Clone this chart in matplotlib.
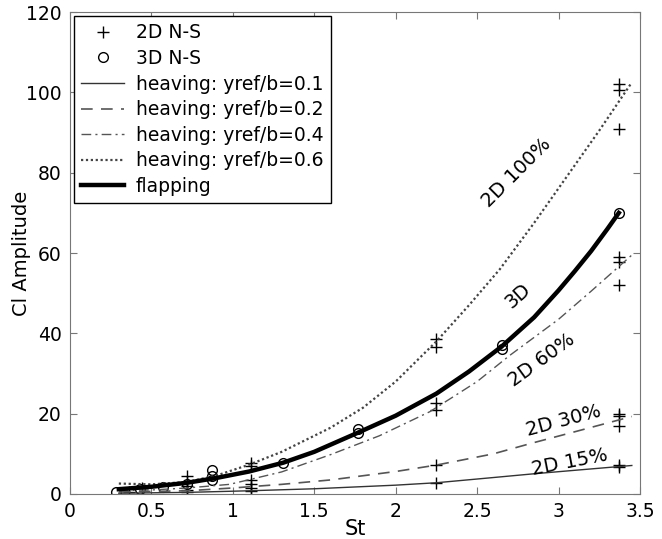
import matplotlib.pyplot as plt

# 2D / 3D Navier-Stokes samples
st_2d = [0.36, 0.44, 0.72, 0.72, 0.72, 0.72, 0.72, 1.11, 1.11, 1.11, 1.11, 1.11, 1.11,
         2.25, 2.25, 2.25, 2.25, 2.25, 2.25,
         3.37, 3.37, 3.37, 3.37, 3.37, 3.37, 3.37, 3.37, 3.37, 3.37, 3.37]
cl_2d = [0.6, 1.4, 4.5, 3.0, 2.0, 1.0, 0.5, 7.6, 7.0, 3.5, 2.4, 1.5, 0.7,
         38.5, 36.5, 22.6, 20.9, 7.2, 2.7,
         102.0, 100.6, 91.0, 59.0, 57.8, 52.0, 19.8, 19.3, 17.0, 7.2, 6.7]

st_3d = [0.28, 0.43, 0.57, 0.72, 0.87, 0.87, 0.87, 1.31, 1.77, 1.77, 2.65, 2.65, 3.37]
cl_3d = [0.6, 1.2, 1.7, 2.6, 5.9, 4.4, 3.4, 7.7, 16.2, 15.2, 37.0, 36.1, 70.0]

# heaving curves
st_h01 = [0.3, 0.72, 1.1, 1.5, 2.0, 2.25, 2.6, 2.84, 3.1, 3.45]
cl_h01 = [0.2, 0.4, 0.8, 1.3, 2.2, 2.8, 4.1, 5.0, 5.9, 7.1]

st_h02 = [0.3, 0.72, 1.0, 1.3, 1.6, 2.0, 2.25, 2.6, 2.84, 3.1, 3.45]
cl_h02 = [0.5, 0.8, 1.5, 2.4, 3.5, 5.6, 7.2, 10.0, 12.7, 15.5, 19.3]

st_h04 = [0.3, 0.5, 0.72, 0.98, 1.3, 1.6, 1.9, 2.21, 2.5, 2.7, 3.0, 3.2, 3.45]
cl_h04 = [0.9, 1.0, 1.5, 2.4, 5.5, 9.8, 14.5, 20.5, 28.0, 34.5, 43.5, 50.5, 59.5]

st_h06 = [0.3, 0.5, 0.72, 0.9, 1.1, 1.3, 1.6, 1.8, 2.0, 2.25, 2.45, 2.64, 2.85, 3.05, 3.25, 3.45]
cl_h06 = [2.6, 2.4, 3.0, 4.6, 7.3, 10.5, 16.5, 21.5, 28.0, 38.0, 47.0, 56.0, 67.5, 79.0, 90.5, 102.5]

# flapping
st_fl = [0.3, 0.5, 0.72, 0.9, 1.1, 1.31, 1.5, 1.77, 2.0, 2.25, 2.45, 2.65, 2.85, 3.0, 3.1, 3.2, 3.3, 3.37]
cl_fl = [1.2, 1.8, 2.8, 4.0, 5.6, 7.8, 10.5, 15.3, 19.5, 25.0, 30.5, 36.7, 44.0, 50.7, 55.5, 60.5, 66.0, 70.0]

plt.rcParams['font.family'] = 'DejaVu Sans'
plt.rcParams['font.size'] = 13

fig = plt.figure(figsize=(6.62, 5.39), dpi=100)
ax = fig.add_axes([0.1057, 0.0835, 0.861, 0.894])

ax.plot(st_2d, cl_2d, '+', color='black', ms=9, mew=1.0, label='2D N-S')
ax.plot(st_3d, cl_3d, 'o', mfc='none', mec='black', ms=7, mew=1.0, label='3D N-S')
ax.plot(st_h01, cl_h01, '-', color='#333333', lw=1.0, label='heaving: yref/b=0.1')
ax.plot(st_h02, cl_h02, color='#555555', lw=1.2, dashes=(7, 5), label='heaving: yref/b=0.2')
ax.plot(st_h04, cl_h04, color='#555555', lw=1.0, dashes=(7, 3, 1.5, 3), label='heaving: yref/b=0.4')
ax.plot(st_h06, cl_h06, color='#444444', lw=1.6, dashes=(1, 1.2), label='heaving: yref/b=0.6')
ax.plot(st_fl, cl_fl, '-', color='black', lw=3.2, label='flapping')

# curve annotations
ax.text(2.74, 80, '2D 100%', rotation=45, ha='center', va='center', fontsize=14)
ax.text(2.75, 49.4, '3D', rotation=42, ha='center', va='center', fontsize=14)
ax.text(2.9, 33.3, '2D 60%', rotation=36, ha='center', va='center', fontsize=14)
ax.text(3.03, 18.3, '2D 30%', rotation=15, ha='center', va='center', fontsize=14)
ax.text(3.07, 8.0, '2D 15%', rotation=11, ha='center', va='center', fontsize=14)

ax.set_xlim(0, 3.5)
ax.set_ylim(0, 120)
ax.set_xticks([0, 0.5, 1, 1.5, 2, 2.5, 3, 3.5])
ax.set_xticklabels(['0', '0.5', '1', '1.5', '2', '2.5', '3', '3.5'])
ax.set_yticks([0, 20, 40, 60, 80, 100, 120])
ax.tick_params(direction='in', top=True, right=True, length=5, color='#777777',
               pad=6, labelsize=13.5)
for s in ax.spines.values():
    s.set_color('#777777')

ax.set_xlabel('St', fontsize=15, labelpad=-2)
ax.set_ylabel('Cl Amplitude', fontsize=14)
ax.yaxis.set_label_coords(-0.068, 0.5)

leg = ax.legend(loc='upper left', fancybox=False, edgecolor='black', framealpha=1,
                borderaxespad=0.2, handlelength=2.3, labelspacing=0.35, handletextpad=0.6,
                fontsize=13.5)
leg.get_frame().set_linewidth(1.0)

plt.savefig('out.png', dpi=100)
